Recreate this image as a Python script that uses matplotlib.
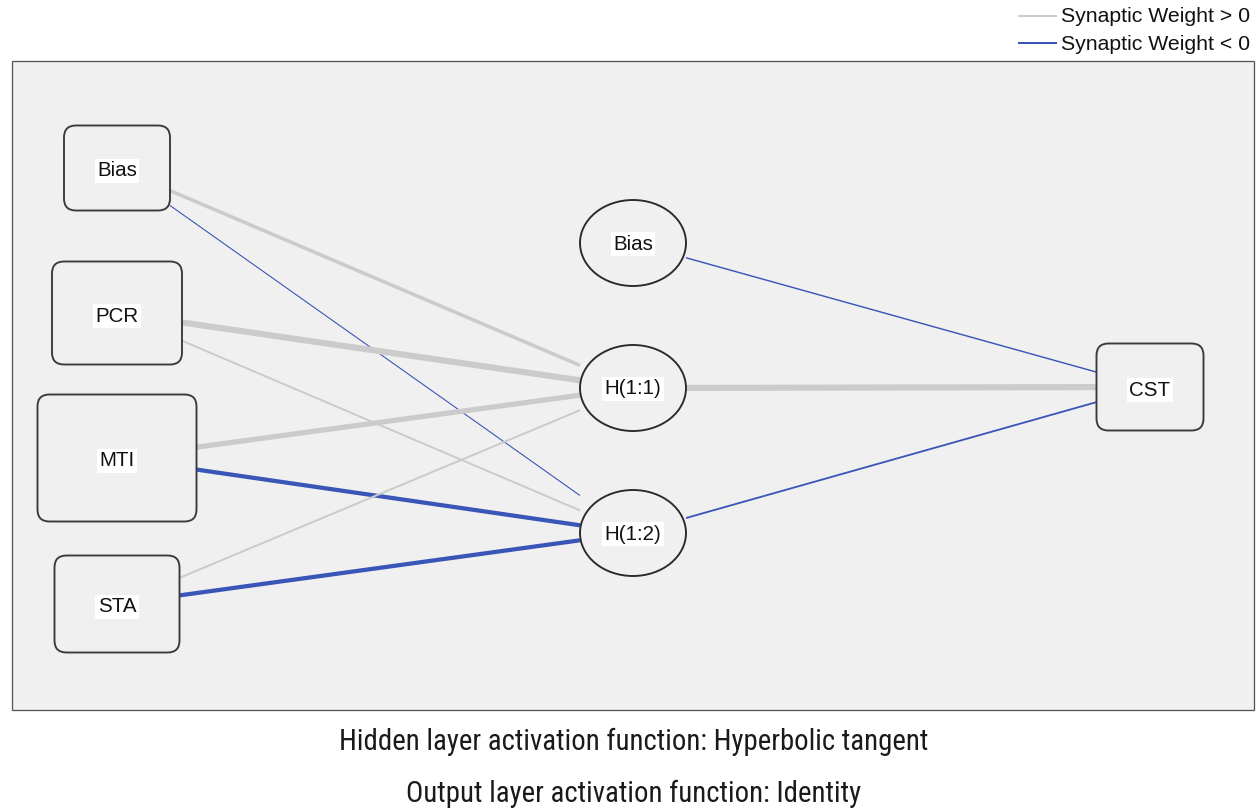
import matplotlib
matplotlib.use("Agg")
import matplotlib.pyplot as plt
from matplotlib.patches import FancyBboxPatch, Ellipse, Rectangle
from matplotlib import font_manager

# ---------------- data ----------------
input_nodes = ["Bias", "PCR", "MTI", "STA"]
hidden_nodes = ["Bias", "H(1:1)", "H(1:2)"]
output_nodes = ["CST"]
# synaptic weights input -> hidden units H(1:1), H(1:2) (estimated from line thickness/colour)
w_in_h1 = [0.55, 0.95, 0.80, 0.30]
w_in_h2 = [-0.15, 0.30, -0.65, -0.65]
# hidden (Bias, H(1:1), H(1:2)) -> CST
w_hid_out = [-0.22, 0.95, -0.28]
legend_labels = ["Synaptic Weight > 0", "Synaptic Weight < 0"]
footer_lines = ["Hidden layer activation function: Hyperbolic tangent",
                "Output layer activation function: Identity"]

# ---------------- layout (pixel space) ----------------
W, H = 1256, 808
POS_COL = "#cbcbcb"
NEG_COL = "#3a55b8"
in_layout = {  # center x, center y, width, height
    "Bias": (117, 168, 106, 85),
    "PCR": (117, 313, 130, 103),
    "MTI": (117, 458, 159, 127),
    "STA": (117, 604, 125, 97),
}
hid_layout = {
    "Bias": (633, 243, 106, 86),
    "H(1:1)": (633, 388, 106, 86),
    "H(1:2)": (633, 533, 106, 86),
}
out_layout = {"CST": (1150, 387, 107, 87)}

fl = font_manager.fontManager.ttflist
fams = {f.name for f in fl}
label_font = "Liberation Sans" if "Liberation Sans" in fams else "DejaVu Sans"

# look for a condensed sans font for the footer
foot_prop = None
for fam in ["Liberation Sans Narrow", "Roboto Condensed", "Open Sans Condensed",
            "Noto Sans Condensed", "DejaVu Sans Condensed", "Arial Narrow"]:
    if fam in fams:
        foot_prop = dict(family=fam)
        break
if foot_prop is None:
    for f in fl:
        if f.name in ("Liberation Sans", "Roboto", "Open Sans", "Noto Sans", "DejaVu Sans",
                      "Inter", "Lato") and f.stretch in ("condensed", "semi-condensed") \
                and f.style == "normal" and f.weight in (400, "normal", "regular"):
            foot_prop = dict(fname=f.fname)
            break
if foot_prop is not None:
    if "fname" in foot_prop:
        fp = font_manager.FontProperties(fname=foot_prop["fname"], size=20.7)
    else:
        fp = font_manager.FontProperties(family=foot_prop["family"], size=20.7)
else:
    fp = font_manager.FontProperties(family=label_font, size=18.5)

fig = plt.figure(figsize=(W / 100, H / 100), dpi=100)
ax = fig.add_axes([0, 0, 1, 1])
ax.set_xlim(0, W)
ax.set_ylim(H, 0)
ax.axis("off")

PX = 72 / 100  # points per pixel

# panel
ax.add_patch(Rectangle((12, 61), 1242, 649, facecolor="#f0f0f0",
                       edgecolor="#555555", lw=1.3 * PX, zorder=0))


def clip_seg(a, b):
    """segment between the centres of a and b, clipped to their bounding boxes"""
    (x0, y0, w0, h0), (x1, y1, w1, h1) = a, b
    dx, dy = x1 - x0, y1 - y0

    def exit_t(w, h):
        ts = []
        if dx != 0:
            ts.append((w / 2) / abs(dx))
        if dy != 0:
            ts.append((h / 2) / abs(dy))
        return min(ts)
    t0 = exit_t(w0, h0)
    t1 = 1 - exit_t(w1, h1)
    return (x0 + dx * t0, x0 + dx * t1), (y0 + dy * t0, y0 + dy * t1)


def draw_edge(src, dst, w):
    (xa, xb), (ya, yb) = clip_seg(src, dst)
    lw = max(1.1, 6.5 * abs(w)) * PX
    ax.plot([xa, xb], [ya, yb], color=POS_COL if w > 0 else NEG_COL,
            lw=lw, solid_capstyle="butt", zorder=2)


for i, name in enumerate(input_nodes):
    draw_edge(in_layout[name], hid_layout["H(1:1)"], w_in_h1[i])
    draw_edge(in_layout[name], hid_layout["H(1:2)"], w_in_h2[i])
for i, name in enumerate(hidden_nodes):
    draw_edge(hid_layout[name], out_layout["CST"], w_hid_out[i])

lbl_kw = dict(ha="center", va="center", fontsize=14.8, family=label_font,
              color="#111111", zorder=5,
              bbox=dict(facecolor="white", edgecolor="none", pad=1.8))


def rbox(name, lay):
    cx, cy, w, h = lay
    r = 12
    ax.add_patch(FancyBboxPatch((cx - w / 2 + r, cy - h / 2 + r), w - 2 * r, h - 2 * r,
                                boxstyle=f"round,pad={r}", facecolor="#f0f0f0",
                                edgecolor="#3a3a3a", lw=1.9 * PX, zorder=3))
    ax.text(cx, cy + 3, name, **lbl_kw)


for name in input_nodes:
    rbox(name, in_layout[name])
for name in output_nodes:
    rbox(name, out_layout[name])
for name in hidden_nodes:
    cx, cy, w, h = hid_layout[name]
    ax.add_patch(Ellipse((cx, cy), w, h, facecolor="#f0f0f0", edgecolor="#2a2a2a",
                         lw=1.9 * PX, zorder=3))
    ax.text(cx, cy + 1, name, **lbl_kw)

# legend
for k, (lab, col) in enumerate(zip(legend_labels, [POS_COL, NEG_COL])):
    y = 16 + 27 * k
    ax.plot([1018, 1057], [y, y], color=col, lw=2.0 * PX, solid_capstyle="butt")
    ax.text(1061, y + 1, lab, ha="left", va="center", fontsize=15.3,
            family=label_font, color="#111111")

# footer
for k, line in enumerate(footer_lines):
    ax.text(634, 742 + 52 * k, line, ha="center", va="center", fontproperties=fp,
            color="#1a1a1a")

fig.savefig("out.png", dpi=100, facecolor="white")
